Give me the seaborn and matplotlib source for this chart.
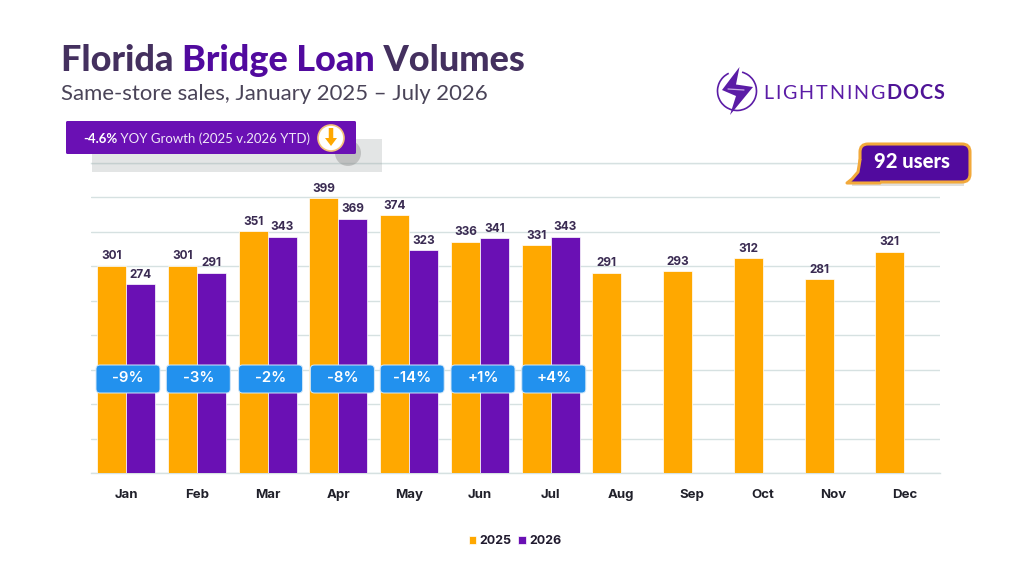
import numpy as np
import pandas as pd
import matplotlib
matplotlib.use('Agg')
import matplotlib.pyplot as plt
from matplotlib.patches import FancyBboxPatch, Rectangle, Circle, Polygon, Arc, FancyArrow
import seaborn as sns

MONTHS = ["Jan", "Feb", "Mar", "Apr", "May", "Jun", "Jul", "Aug", "Sep", "Oct", "Nov", "Dec"]
VOL_2025 = [301, 301, 351, 399, 374, 336, 331, 291, 293, 312, 281, 321]
VOL_2026 = [274, 291, 343, 369, 323, 341, 343, None, None, None, None, None]
YOY = ["-9%", "-3%", "-2%", "-8%", "-14%", "+1%", "+4%"]
YOY_X_SHIFT = [1, 0.5, 2, 3, 2, 2, 2]

ORANGE = "#FFA800"
PURPLE = "#6A10B4"
DARK = "#44305F"
DEEP = "#510A9E"
BLUE = "#2291EE"
GRID = "#D6E1E1"
TITLE_FONT = "Lato"
BODY_FONT = "Inter"

sns.set_theme(style="white")
plt.rcParams["font.family"] = [BODY_FONT, "DejaVu Sans"]

W, H = 1024, 576
fig = plt.figure(figsize=(W / 100, H / 100), dpi=100, facecolor="white")
ax = fig.add_axes([90.7 / W, 1 - 473 / H, 849 / W, 310 / H])

df = pd.DataFrame({
    "month": MONTHS * 2,
    "year": ["2025"] * 12 + ["2026"] * 12,
    "volume": VOL_2025 + VOL_2026,
})
sns.barplot(data=df, x="month", y="volume", hue="year", order=MONTHS,
            palette=[ORANGE, PURPLE], width=0.82, saturation=1,
            edgecolor="white", linewidth=0.5, ax=ax, zorder=3)

ax.set_ylim(0, 450)
ax.set_xlim(-0.5, 11.5)
ax.set_yticks(range(0, 451, 50))
ax.yaxis.grid(True, color=GRID, lw=1)
ax.set_axisbelow(True)
ax.tick_params(axis="y", left=False, labelleft=False)
ax.tick_params(axis="x", bottom=False, pad=5.5)
for lab in ax.get_xticklabels():
    lab.set_fontsize(9.5)
    lab.set_fontweight("bold")
    lab.set_color("#20202A")
ax.set_xlabel("")
ax.set_ylabel("")
sns.despine(ax=ax, left=True, right=True, top=False, bottom=False)
ax.spines["bottom"].set_color(GRID)
ax.spines["top"].set_color(GRID)
ax.spines["bottom"].set_linewidth(1)
ax.spines["top"].set_linewidth(1)

for cont in ax.containers:
    ax.bar_label(cont, fmt="%d", padding=2.5, fontsize=8.5, fontweight="bold", color="#3A2B52")

sns.move_legend(ax, loc="center", bbox_to_anchor=(515 / W, 1 - 541 / H),
                bbox_transform=fig.transFigure, ncols=2, frameon=False, title=None,
                handlelength=0.6, handleheight=0.6, handletextpad=0.25,
                columnspacing=0.55, prop={"size": 9, "weight": "bold"})
for t in ax.get_legend().get_texts():
    t.set_color("#201A2E")

# pixel overlay for title, banner, badges and logo
ov = fig.add_axes([0, 0, 1, 1], zorder=5)
ov.set_xlim(0, W)
ov.set_ylim(H, 0)
ov.axis("off")
ov.patch.set_alpha(0)
rend = fig.canvas.get_renderer()


def runs(x, y, parts, **kw):
    for txt, col, weight in parts:
        t = ov.text(x, y, txt, color=col, fontweight=weight, va="baseline", ha="left", **kw)
        x += t.get_window_extent(rend).width
    return x


runs(61, 71, [("Florida ", DARK, "black"), ("Bridge Loan", DEEP, "black"), (" Volumes", DARK, "black")],
     fontsize=25.9, family=TITLE_FONT)
ov.text(61, 100, "Same-store sales, January 2025 – July 2026", color="#4A4458",
        fontsize=15.93, family=TITLE_FONT, va="baseline")

# logo
ov.add_patch(Arc((737, 91), 39, 39, theta1=-75, theta2=245, color="#5B1CA6", lw=1.2))
ov.add_patch(Circle((737, 91), 12, color="white", lw=0))
ov.add_patch(Polygon([(739.5, 67), (722, 90), (736, 96), (730, 115), (753, 87), (736, 84.5)],
                     closed=True, color="#5B1CA6", lw=0))
ov.plot([728, 744], [89, 90], color="#C9AEE6", lw=0.9)
xpos = 763
for ch in "LIGHTNING":
    t = ov.text(xpos, 99, ch, color="#5B1CA6", fontsize=14.2, family=TITLE_FONT, va="baseline")
    xpos += t.get_window_extent(rend).width + 1.9
for ch in "DOCS":
    t = ov.text(xpos, 99, ch, color="#4F1496", fontsize=14.2, fontweight="bold", family=TITLE_FONT, va="baseline")
    xpos += t.get_window_extent(rend).width + 1.0

# YOY banner
ov.add_patch(Rectangle((92, 139), 290, 33, color="#9A9FA0", alpha=0.27, lw=0))
ov.add_patch(Circle((348, 153), 13, color="#8A8A8A", alpha=0.4, lw=0))
ov.add_patch(FancyBboxPatch((66, 121), 290, 33, boxstyle="round,pad=0,rounding_size=1.5", fc=PURPLE, ec="none"))
runs(83, 143, [("-4.6%", "white", "bold"), (" YOY Growth (2025 v.2026 YTD)", "#F0E8F8", "normal")],
     fontsize=9.5, family=TITLE_FONT)
ov.add_patch(Circle((331, 138), 13, fc="white", ec="#F5C27A", lw=1.2))
ov.add_patch(FancyArrow(331, 128, 0, 18, width=4.5, head_width=12, head_length=8,
                        length_includes_head=True, color=ORANGE, lw=0))

# users callout
ov.add_patch(Rectangle((852, 183), 112, 3, color="#BDB8B0", alpha=0.45, lw=0))
ov.add_patch(FancyBboxPatch((860, 144), 110, 38, boxstyle="round,pad=0,rounding_size=8",
                            fc=DEEP, ec="#F2A93B", lw=2.2))
ov.add_patch(Polygon([(860, 160), (858, 172), (849, 182.5), (880, 182.5), (880, 160)],
                     closed=True, fc=DEEP, ec="none"))
ov.plot([860, 858, 852, 847, 880], [160, 172, 179, 183, 183], color="#F2A93B", lw=2.2)
ov.text(912.5, 161, "92 users", color="white", fontsize=14.6, fontweight="black", family=TITLE_FONT,
        ha="center", va="center")

# monthly change badges
for i, label in enumerate(YOY):
    cx = 127 + 70.8 * i + YOY_X_SHIFT[i]
    ov.add_patch(FancyBboxPatch((cx - 32, 365), 64, 28, boxstyle="round,pad=0,rounding_size=4",
                                fc=BLUE, ec="#D5E8F8", lw=0.7))
    ov.text(cx, 378.5, label, color="white", fontsize=10.8, fontweight="semibold", ha="center", va="center")

fig.savefig("out.png", dpi=100)
